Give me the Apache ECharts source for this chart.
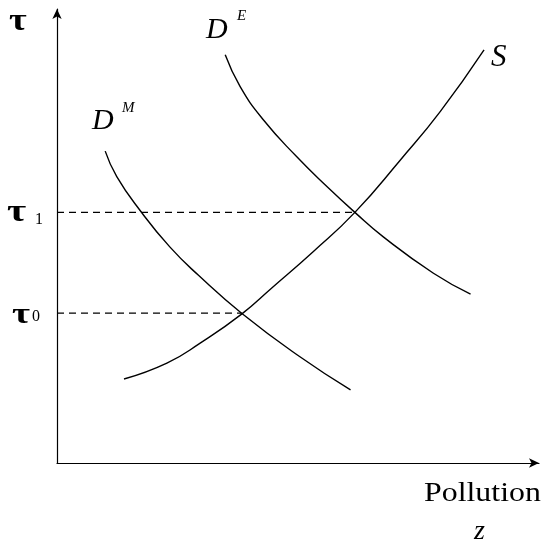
<!DOCTYPE html>
<html>
<head>
<meta charset="utf-8">
<script src="https://cdn.jsdelivr.net/npm/echarts@6/dist/echarts.min.js"></script>
<style>
  html, body { margin: 0; padding: 0; background: #fff; }
  #main { width: 545px; height: 544px; }
</style>
</head>
<body>
<div id="main"></div>
<script>
// 曲线数据（x: 污染量 z，y: 税率 τ，均为 0-100 的相对刻度）
const supplyS = [
  [13.9, 18.5], [22.8, 22.0], [29.7, 26.4], [38.3, 32.8], [44.5, 38.5],
  [53.2, 46.6], [61.8, 55.2], [71.2, 66.7], [79.5, 77.4], [88.6, 91.0]
];
const demandM = [
  [10.0, 68.7], [12.4, 63.1], [17.4, 55.4], [23.4, 47.6], [29.3, 41.4],
  [38.3, 33.0], [50.4, 23.4], [60.9, 16.1]
];
const demandE = [
  [34.9, 89.9], [38.0, 82.9], [42.8, 75.6], [49.7, 67.5], [56.0, 60.9],
  [61.8, 55.2], [67.7, 49.8], [78.1, 41.8], [85.8, 37.2]
];
// 均衡点
const tauLevels = [55.2, 33.0];
const tauCrossX = [61.8, 38.3];

const chart = echarts.init(document.getElementById("main"));

const curveStyle = { color: "#000", width: 1.4 };
const serif = "Liberation Serif, Times New Roman, serif";

const curve = (name, data) => ({
  name,
  type: "line",
  data,
  smooth: 0.5,
  showSymbol: false,
  silent: true,
  lineStyle: curveStyle,
});

const dashed = (level, x) => ({
  type: "line",
  data: [[0, level], [x, level]],
  showSymbol: false,
  silent: true,
  lineStyle: { color: "#000", width: 1.2, type: [7, 5] },
});

const txt = (x, y, text, size, weight, scaleX) => ({
  type: "text",
  x,
  y,
  scaleX: scaleX || 1,
  style: {
    text,
    fill: "#000",
    font: (weight ? weight + " " : "") + size + "px " + serif,
    textVerticalAlign: "top",
  },
});

chart.setOption({
  animation: false,
  grid: { left: 57, right: 6, top: 9, bottom: 81 },
  xAxis: {
    type: "value",
    min: 0,
    max: 100,
    splitLine: { show: false },
    axisTick: { show: false },
    axisLabel: { show: false },
    axisLine: {
      symbol: ["none", "arrow"],
      symbolSize: [7, 10],
      lineStyle: { color: "#000", width: 1.2 },
    },
  },
  yAxis: {
    type: "value",
    min: 0,
    max: 100,
    splitLine: { show: false },
    axisTick: { show: false },
    axisLabel: { show: false },
    axisLine: {
      symbol: ["none", "arrow"],
      symbolSize: [7, 10],
      lineStyle: { color: "#000", width: 1.2 },
    },
  },
  series: [
    curve("S", supplyS),
    curve("DM", demandM),
    curve("DE", demandE),
    dashed(tauLevels[0], tauCrossX[0]),
    dashed(tauLevels[1], tauCrossX[1]),
  ],
  graphic: [
    txt(9, 6, "τ", 32, "bold", 1.2),
    txt(7, 197, "τ", 32, "bold", 1.3),
    txt(35, 212, "1", 16),
    txt(12, 300, "τ", 30, "bold", 1.3),
    txt(32, 309, "0", 16),
    txt(92, 106, "D", 30, "italic"),
    txt(122, 101, "M", 15, "italic"),
    txt(206, 15, "D", 30, "italic"),
    txt(237, 9, "E", 15, "italic"),
    txt(491, 42, "S", 31, "italic"),
    txt(424, 480, "Pollution", 27, "", 1.18),
    txt(474, 518, "z", 28, "italic"),
  ],
});
</script>
</body>
</html>
